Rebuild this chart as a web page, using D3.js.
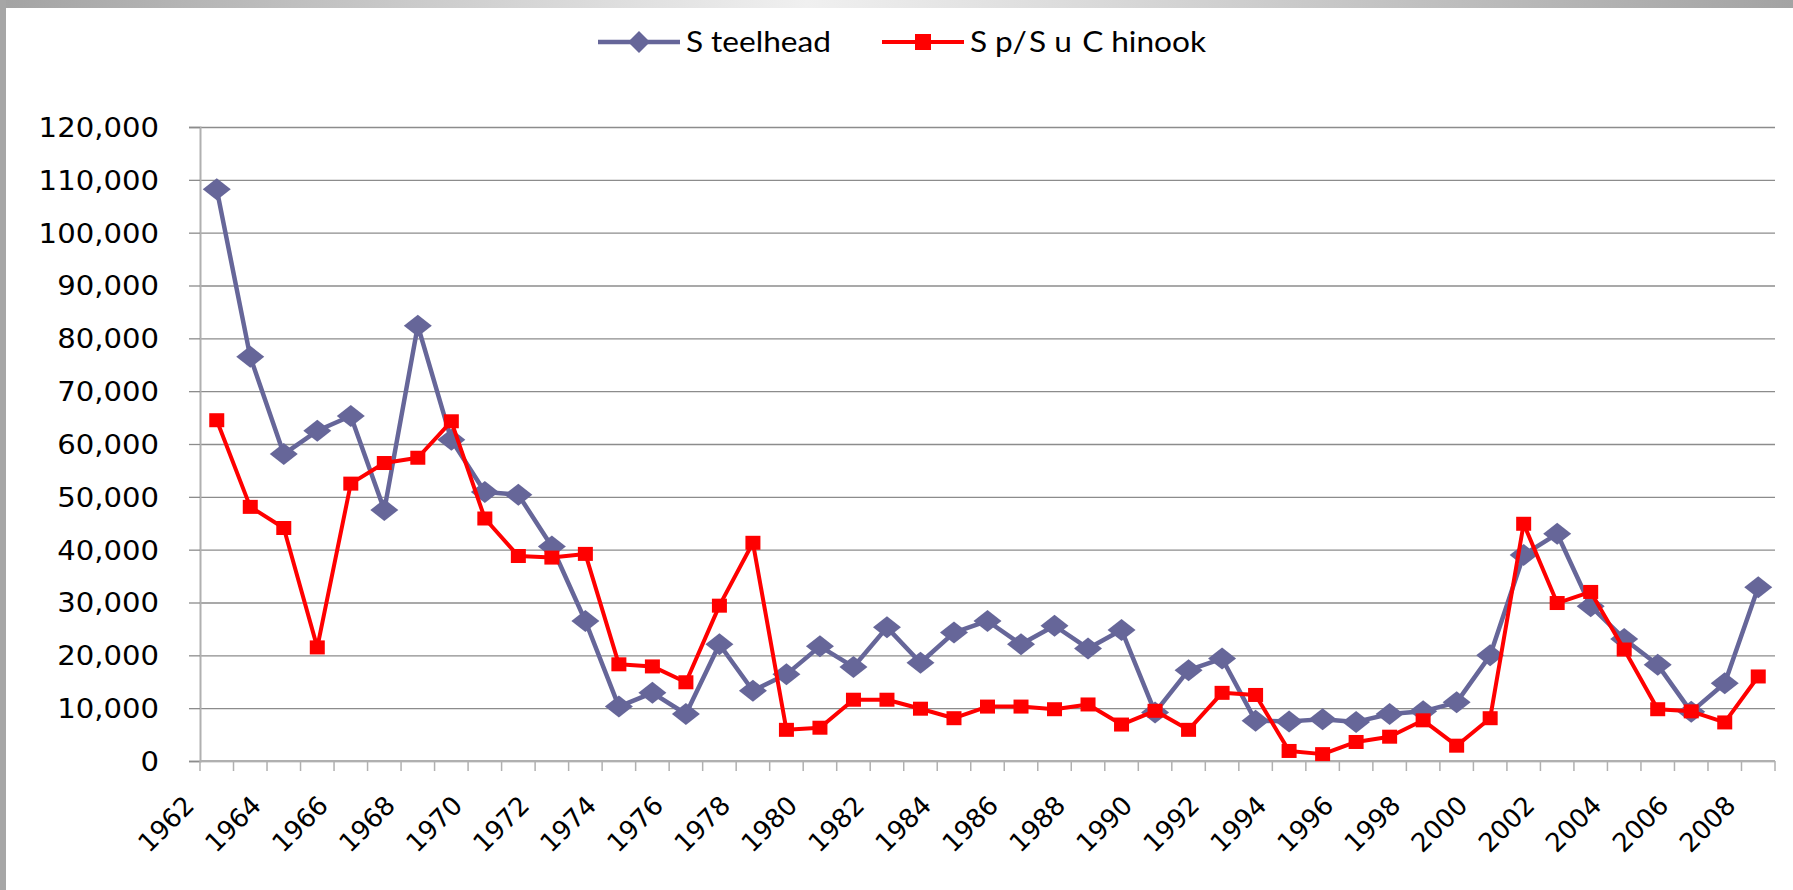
<!DOCTYPE html>
<html>
<head>
<meta charset="utf-8">
<script src="https://cdn.jsdelivr.net/npm/d3@7"></script>
<style>
    html, body { margin: 0; padding: 0; background: #fff; }
    #chart { width: 1793px; height: 890px; }
    text { font-family: "DejaVu Sans", Verdana, sans-serif; fill: #000; }
    .legend text { font-family: Lato, "Open Sans", sans-serif; }
</style>
</head>
<body>
<div id="chart"></div>
<script>
// data
var years = [1962, 1963, 1964, 1965, 1966, 1967, 1968, 1969, 1970, 1971,
    1972, 1973, 1974, 1975, 1976, 1977, 1978, 1979, 1980, 1981,
    1982, 1983, 1984, 1985, 1986, 1987, 1988, 1989, 1990, 1991,
    1992, 1993, 1994, 1995, 1996, 1997, 1998, 1999, 2000, 2001,
    2002, 2003, 2004, 2005, 2006, 2007, 2008];

var steelhead = [108200, 76500, 58100, 62500, 65300, 47500, 82400, 60800, 50900, 50400,
    40600, 26500, 10300, 12900, 8900, 22100, 13300, 16400, 21700, 17800,
    25300, 18600, 24300, 26500, 22100, 25600, 21300, 24800, 9200, 17200,
    19400, 7600, 7500, 7900, 7400, 8900, 9400, 11100, 20000, 39000,
    43000, 29300, 23100, 18200, 9300, 14700, 32900];

var chinook = [64500, 48100, 44100, 21500, 52500, 56400, 57400, 64300, 45900, 38800,
    38500, 39200, 18300, 17900, 14900, 29400, 41300, 5900, 6300, 11600,
    11600, 9900, 8100, 10300, 10300, 9800, 10700, 6900, 9500, 5900,
    12900, 12500, 1900, 1300, 3600, 4600, 7700, 2900, 8100, 44900,
    29900, 32000, 21100, 9800, 9400, 7300, 16000];

var yTicks = [0, 10000, 20000, 30000, 40000, 50000, 60000, 70000, 80000, 90000, 100000, 110000, 120000];
var xLabels = [1962, 1964, 1966, 1968, 1970, 1972, 1974, 1976, 1978, 1980, 1982, 1984,
    1986, 1988, 1990, 1992, 1994, 1996, 1998, 2000, 2002, 2004, 2006, 2008];

var seriesNames = ["Steelhead", "Sp/Su Chinook"];

var W = 1793, H = 890;
var plot = { left: 200, right: 1775, top: 127, bottom: 761 };
var svg, x, y;

function drawFrame() {
    const defs = svg.append("defs");
    const grad = defs.append("linearGradient").attr("id", "topbar");
    grad.append("stop").attr("offset", "0%").attr("stop-color", "#a3a3a3");
    grad.append("stop").attr("offset", "45%").attr("stop-color", "#f0f0f0");
    grad.append("stop").attr("offset", "100%").attr("stop-color", "#a3a3a3");

    svg.append("rect").attr("x", 0).attr("y", 0).attr("width", W).attr("height", H).attr("fill", "#fff");
    svg.append("rect").attr("x", 0).attr("y", 0).attr("width", W).attr("height", 8).attr("fill", "url(#topbar)");
    svg.append("rect").attr("x", 0).attr("y", 0).attr("width", 6).attr("height", H).attr("fill", "#a6a6a6");
}

function drawAxes() {
    // gridlines
    svg.append("g")
        .attr("class", "grid")
        .attr("transform", `translate(${plot.left},0)`)
        .call(d3.axisLeft(y).tickValues(yTicks).tickSize(-(plot.right - plot.left)).tickFormat(""))
        .call(g => g.select(".domain").remove())
        .call(g => g.selectAll("line").attr("stroke", "#8c8c8c").attr("stroke-width", 1.3));

    // y axis
    const yAxis = svg.append("g")
        .attr("class", "y-axis")
        .attr("transform", `translate(${plot.left},0)`)
        .call(d3.axisLeft(y).tickValues(yTicks).tickSize(11).tickPadding(30).tickFormat(d3.format(",")));
    yAxis.select(".domain").attr("stroke", "#b0b0b0").attr("stroke-width", 2);
    yAxis.selectAll(".tick line").attr("stroke", "#8c8c8c").attr("stroke-width", 1.3);
    yAxis.selectAll(".tick text")
        .attr("font-size", 26)
        .attr("x", null)
        .attr("dy", "0.36em")
        .attr("transform", "translate(-41,0) scale(1.12,1)");

    // x axis: ticks between categories
    const xAxis = svg.append("g").attr("class", "x-axis");
    xAxis.append("line")
        .attr("x1", plot.left).attr("x2", plot.right)
        .attr("y1", plot.bottom).attr("y2", plot.bottom)
        .attr("stroke", "#b0b0b0").attr("stroke-width", 2);
    const edges = years.map(d => x(d)).concat([x(years[years.length - 1]) + x.bandwidth()]);
    xAxis.selectAll(".xtick")
        .data(edges)
        .join("line")
        .attr("class", "xtick")
        .attr("x1", d => d).attr("x2", d => d)
        .attr("y1", plot.bottom).attr("y2", plot.bottom + 10)
        .attr("stroke", "#b0b0b0").attr("stroke-width", 1.5);

    xAxis.selectAll(".xlabel")
        .data(xLabels)
        .join("text")
        .attr("class", "xlabel")
        .attr("font-size", 26)
        .attr("text-anchor", "end")
        .attr("transform", d => `translate(${x(d) + x.bandwidth() / 2 - 21},${plot.bottom + 46}) rotate(-45)`)
        .text(d => d);
}

function diamond(cx, cy, hw, hh) {
    return `M${cx},${cy - hh}L${cx + hw},${cy}L${cx},${cy + hh}L${cx - hw},${cy}Z`;
}

function drawSeries() {
    const cx = d => x(d) + x.bandwidth() / 2;

    const lineS = d3.line().x((d, i) => cx(years[i])).y(d => y(d));

    // steelhead
    svg.append("path")
        .datum(steelhead)
        .attr("fill", "none")
        .attr("stroke", "#666699")
        .attr("stroke-width", 4.5)
        .attr("stroke-linejoin", "round")
        .attr("d", lineS);
    svg.append("g").selectAll("path")
        .data(steelhead)
        .join("path")
        .attr("fill", "#666699")
        .attr("d", (d, i) => diamond(cx(years[i]), y(d), 14, 11));

    // chinook
    svg.append("path")
        .datum(chinook)
        .attr("fill", "none")
        .attr("stroke", "#ff0000")
        .attr("stroke-width", 4)
        .attr("stroke-linejoin", "round")
        .attr("d", lineS);
    svg.append("g").selectAll("rect")
        .data(chinook)
        .join("rect")
        .attr("fill", "#ff0000")
        .attr("x", (d, i) => cx(years[i]) - 7.5)
        .attr("y", d => y(d) - 7)
        .attr("width", 15)
        .attr("height", 14);
}

// legend label, with the loose gap the original shows after each capital
function legendText(g, lx, ly, name) {
    const t = g.append("text")
        .attr("transform", `translate(${lx},${ly}) scale(1.13,1)`)
        .attr("dy", "0.36em")
        .attr("font-size", 28);
    const parts = name.split(/(?=[A-Z])/);
    parts.forEach((p, i) => {
        t.append("tspan").attr("dx", i == 0 ? 0 : 2).text(p[0]);
        t.append("tspan").attr("dx", 7).text(p.slice(1));
    });
}

function drawLegend() {
    const ly = 42;
    const lg = svg.append("g").attr("class", "legend");
    // steelhead
    lg.append("line").attr("x1", 598).attr("x2", 680).attr("y1", ly).attr("y2", ly)
        .attr("stroke", "#666699").attr("stroke-width", 4.5);
    lg.append("path").attr("d", diamond(639, ly, 11, 11)).attr("fill", "#666699");
    legendText(lg, 686, ly, seriesNames[0]);
    // chinook
    lg.append("line").attr("x1", 882).attr("x2", 964).attr("y1", ly).attr("y2", ly)
        .attr("stroke", "#ff0000").attr("stroke-width", 4);
    lg.append("rect").attr("x", 915).attr("y", ly - 8).attr("width", 16).attr("height", 16).attr("fill", "#ff0000");
    legendText(lg, 970, ly, seriesNames[1]);
}

function initDraw() {
    svg = d3.select("#chart").append("svg")
        .attr("width", W)
        .attr("height", H);

    x = d3.scaleBand()
        .domain(years)
        .range([plot.left, plot.right]);

    y = d3.scaleLinear()
        .domain([0, 120000])
        .range([plot.bottom, plot.top]);

    drawFrame();
    drawAxes();
    drawSeries();
    drawLegend();
}

document.addEventListener("DOMContentLoaded", () => {
    initDraw();
});
</script>
</body>
</html>
